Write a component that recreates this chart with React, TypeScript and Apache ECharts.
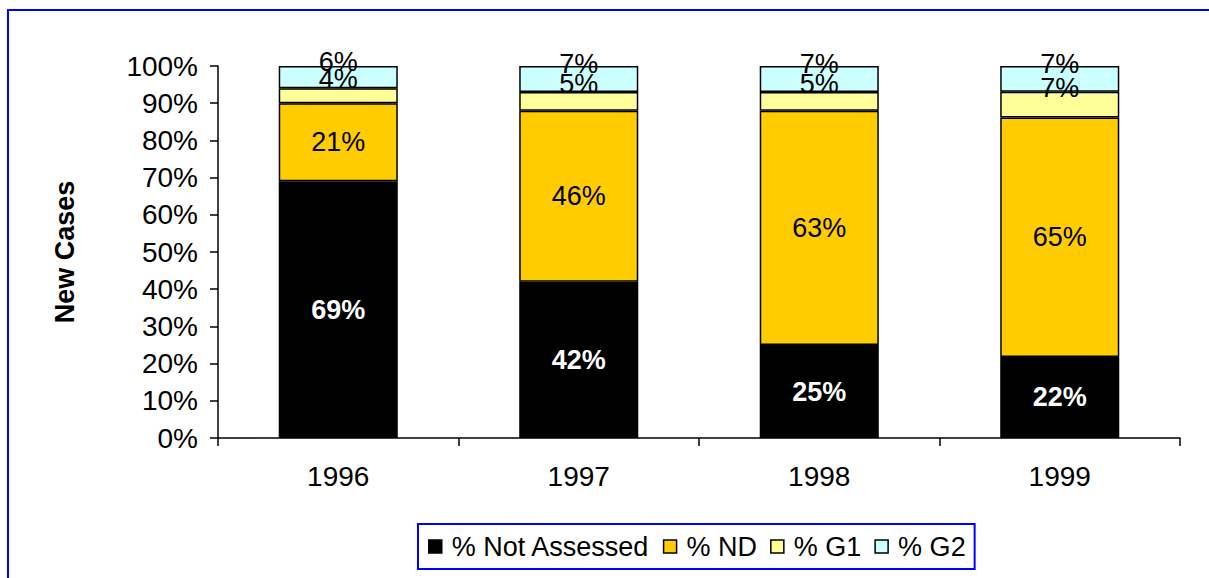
import React, { useEffect, useRef } from "react";
import * as echarts from "echarts";

const years = ["1996", "1997", "1998", "1999"];
const notAssessed = [69, 42, 25, 22];
const nd = [21, 46, 63, 65];
const g1 = [4, 5, 5, 7];
const g2 = [6, 7, 7, 7];
const seriesNames = ["% Not Assessed", "% ND", "% G1", "% G2"];
const colors = ["#000000", "#FFCC00", "#FFFF99", "#CCFFFF"];

export default function App() {
  const ref = useRef<HTMLDivElement>(null);
  useEffect(() => {
    if (!ref.current) return;
    const chart = echarts.init(ref.current, null, { renderer: "svg" });
    const raw = [notAssessed, nd, g1, g2];
    const totals = years.map((_, i) => raw.reduce((s, a) => s + a[i], 0));
    const font = "Liberation Sans, Arial, sans-serif";
    const offsets: [number, number][] = [[0, 0], [0, 0], [0, -17], [0, -15]];
    const series = raw.map((arr, k) => ({
      name: seriesNames[k],
      type: "bar",
      stack: "total",
      barWidth: "49.5%",
      data: arr.map((v, i) => (v / totals[i]) * 100),
      itemStyle: { color: colors[k], borderColor: "#000", borderWidth: 1.5 },
      label: {
        show: true,
        position: "inside",
        offset: offsets[k],
        formatter: (p: any) => raw[k][p.dataIndex] + "%",
        color: k === 0 ? "#fff" : "#000",
        fontWeight: k === 0 ? "bold" : "normal",
        fontSize: 27,
        fontFamily: font,
      },
    }));
    chart.setOption({
      animation: false,
      backgroundColor: "#fff",
      graphic: [
        {
          type: "rect",
          shape: { x: 8, y: 10, width: 1400, height: 800 },
          style: { fill: "none", stroke: "#0000FF", lineWidth: 2 },
          silent: true,
          z: -1,
        },
      ],
      grid: { left: 218, right: 29, top: 66, bottom: 140 },
      legend: {
        left: 418,
        top: 524,
        orient: "horizontal",
        borderColor: "#0000FF",
        borderWidth: 2,
        padding: [9, 9, 9, 10],
        itemWidth: 13,
        itemHeight: 13,
        itemGap: 13,
        borderRadius: 0,
        icon: "rect",
        textStyle: { fontSize: 27, color: "#000", fontFamily: font, padding: [0, 0, 0, 5] },
        data: seriesNames.map((n, k) => ({
          name: n,
          itemStyle: { color: colors[k], borderColor: "#000", borderWidth: 1.5 },
        })),
      },
      xAxis: {
        type: "category",
        data: years,
        axisLine: { lineStyle: { color: "#000", width: 1.5 } },
        axisTick: { show: true, length: 8, interval: 0, lineStyle: { color: "#000", width: 1.5 } },
        axisLabel: { fontSize: 28, color: "#000", margin: 24, fontFamily: font },
      },
      yAxis: {
        type: "value",
        min: 0,
        max: 100,
        interval: 10,
        name: "New Cases",
        nameLocation: "middle",
        nameRotate: 90,
        nameGap: 140,
        nameTextStyle: { fontSize: 27, fontWeight: "bold", color: "#000", fontFamily: font },
        axisLine: { show: true, lineStyle: { color: "#000", width: 1.5 } },
        axisTick: { show: true, length: 8, lineStyle: { color: "#000", width: 1.5 } },
        splitLine: { show: false },
        axisLabel: { formatter: "{value}%", fontSize: 28, color: "#000", margin: 20, fontFamily: font },
      },
      series,
    });
    return () => chart.dispose();
  }, []);
  return (
    <div
      ref={ref}
      style={{ position: "absolute", left: 0, top: 0, width: 1209, height: 578 }}
    />
  );
}
